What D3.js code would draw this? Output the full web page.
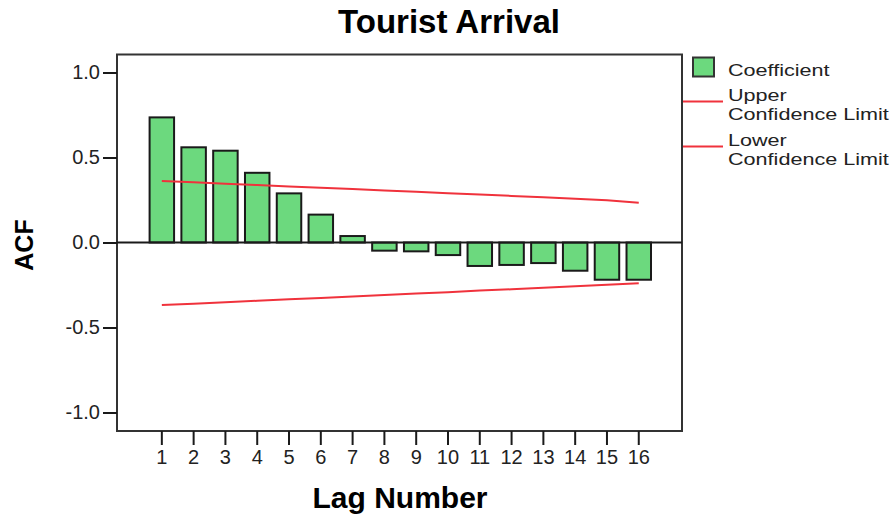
<!DOCTYPE html>
<html>
<head>
<meta charset="utf-8">
<script src="https://cdn.jsdelivr.net/npm/d3@7/dist/d3.min.js"></script>
<style>
  html, body { margin: 0; padding: 0; background: #fff; }
  svg { display: block; font-family: "Liberation Sans", Arial, sans-serif; }
</style>
</head>
<body>
<svg id="chart" width="895" height="516"></svg>
<script>
// Autocorrelation of tourist arrivals, lags 1-16
const lags = [1, 2, 3, 4, 5, 6, 7, 8, 9, 10, 11, 12, 13, 14, 15, 16];
const coefficient = [0.736, 0.560, 0.540, 0.410, 0.289, 0.164, 0.038, -0.048,
                     -0.052, -0.074, -0.138, -0.132, -0.121, -0.166, -0.219, -0.219];
const upperLimit = [0.362, 0.354, 0.346, 0.338, 0.330, 0.322, 0.314, 0.306,
                    0.298, 0.290, 0.282, 0.274, 0.266, 0.258, 0.249, 0.234];
const lowerLimit = [-0.368, -0.360, -0.351, -0.343, -0.334, -0.326, -0.317, -0.309,
                    -0.300, -0.292, -0.283, -0.275, -0.266, -0.258, -0.249, -0.240];
const yTicks = [-1.0, -0.5, 0.0, 0.5, 1.0];
const legendItems = [
  { kind: "box", lines: ["Coefficient"] },
  { kind: "line", lines: ["Upper", "Confidence Limit"] },
  { kind: "line", lines: ["Lower", "Confidence Limit"] }
];

const svg = d3.select("#chart");
const frame = { left: 117, right: 682, top: 54.5, bottom: 431 };
const barFill = "#6cd97e";
const limitColor = "#f0323c";
const ink = "#1a1a1a";

const x = d3.scaleBand()
  .domain(lags)
  .range([frame.left + 0.8, frame.right + 0.8])
  .paddingInner(0.23)
  .paddingOuter(1.0);

const y = d3.scaleLinear()
  .domain([-1, 1])
  .range([412.5, 72.5]);

// Title
svg.append("text")
  .attr("x", 449).attr("y", 33)
  .attr("text-anchor", "middle")
  .attr("font-size", 33).attr("font-weight", "bold")
  .attr("fill", "#000")
  .text("Tourist Arrival");

// Plot frame
svg.append("rect")
  .attr("x", frame.left).attr("y", frame.top)
  .attr("width", frame.right - frame.left)
  .attr("height", frame.bottom - frame.top)
  .attr("fill", "#fff")
  .attr("stroke", "#333").attr("stroke-width", 2);

// Y axis (plain hyphen for negatives)
const fmt = d3.format(".1f");
const yAxis = d3.axisLeft(y)
  .tickValues(yTicks)
  .tickFormat(d => fmt(d).replace("\u2212", "-"))
  .tickSize(14).tickSizeOuter(0).tickPadding(3);
const gy = svg.append("g")
  .attr("transform", `translate(${frame.left},0)`)
  .call(yAxis);
gy.select(".domain").remove();
gy.selectAll(".tick line").attr("stroke", ink).attr("stroke-width", 2);
gy.selectAll(".tick text")
  .attr("font-size", 20).attr("fill", "#222")
  .attr("font-family", "Liberation Sans, Arial, sans-serif");

// X axis
const xAxis = d3.axisBottom(x)
  .tickSize(14).tickSizeOuter(0).tickPadding(5);
const gx = svg.append("g")
  .attr("transform", `translate(0,${frame.bottom})`)
  .call(xAxis);
gx.select(".domain").remove();
gx.selectAll(".tick line").attr("stroke", ink).attr("stroke-width", 2);
gx.selectAll(".tick text")
  .attr("font-size", 20).attr("fill", "#222")
  .attr("font-family", "Liberation Sans, Arial, sans-serif");

// Axis titles
svg.append("text")
  .attr("transform", `translate(33,245) rotate(-90)`)
  .attr("text-anchor", "middle")
  .attr("font-size", 25).attr("font-weight", "bold")
  .text("ACF");

svg.append("text")
  .attr("x", 400).attr("y", 508)
  .attr("text-anchor", "middle")
  .attr("font-size", 30).attr("font-weight", "bold")
  .text("Lag Number");

// Coefficient bars
svg.append("g").selectAll("rect")
  .data(lags.map((lag, i) => ({ lag, value: coefficient[i] })))
  .join("rect")
  .attr("x", d => x(d.lag))
  .attr("width", x.bandwidth())
  .attr("y", d => y(Math.max(0, d.value)))
  .attr("height", d => Math.abs(y(d.value) - y(0)))
  .attr("fill", barFill)
  .attr("stroke", ink).attr("stroke-width", 2);

// Zero reference line
svg.append("line")
  .attr("x1", frame.left).attr("x2", frame.right)
  .attr("y1", y(0)).attr("y2", y(0))
  .attr("stroke", ink).attr("stroke-width", 2);

// Confidence limits
const limitLine = d3.line()
  .x(d => x(d.lag) + x.bandwidth() / 2)
  .y(d => y(d.value));
[upperLimit, lowerLimit].forEach(series => {
  svg.append("path")
    .datum(lags.map((lag, i) => ({ lag, value: series[i] })))
    .attr("d", limitLine)
    .attr("fill", "none")
    .attr("stroke", limitColor).attr("stroke-width", 2);
});

// Legend: each entry's label is one text block, wrapped with tspans
const legend = svg.append("g");
const legendTop = [57.5, 88, 133];
legendItems.forEach((item, i) => {
  const g = legend.append("g").attr("transform", `translate(0,${legendTop[i]})`);
  if (item.kind === "box") {
    g.append("rect")
      .attr("x", 693).attr("y", 0).attr("width", 21).attr("height", 19)
      .attr("fill", barFill).attr("stroke", "#333").attr("stroke-width", 2);
  } else {
    g.append("line")
      .attr("x1", 683).attr("x2", 723).attr("y1", 13.5).attr("y2", 13.5)
      .attr("stroke", limitColor).attr("stroke-width", 2);
  }
  const ty = item.kind === "box" ? 18.5 : 12.5;
  const label = g.append("text")
    .attr("transform", `translate(728,${ty}) scale(1.27,1)`)
    .attr("font-size", 17).attr("fill", "#222");
  item.lines.forEach((t, j) => {
    label.append("tspan")
      .attr("x", 0).attr("y", j * 19.5)
      .text(t);
  });
});
</script>
</body>
</html>
